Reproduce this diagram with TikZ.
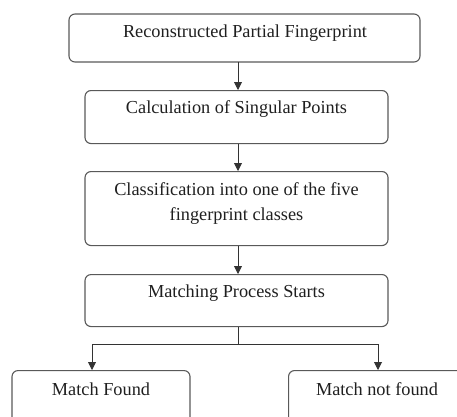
\documentclass[tikz,border=0pt]{standalone}
\usepackage{fontspec}
\setmainfont{Liberation Serif}
\usetikzlibrary{arrows.meta}
\begin{document}
\begin{tikzpicture}[x=1pt,y=1pt,
  box/.style={draw=black!65,line width=1.1pt,rounded corners=6pt},
  lbl/.style={font=\fontsize{18.3}{25}\selectfont,text=black!88,align=center,inner sep=0pt},
  arr/.style={line width=0.9pt,draw=black!80,-{Triangle[length=8pt,width=8pt]}},
  ln/.style={line width=0.9pt,draw=black!80}]
\clip (0,0) rectangle (457,-416);
\useasboundingbox (0,0) rectangle (457,-416);
\draw[box] (69,-14) rectangle (420,-62);
\coordinate (b1s) at (238,-62);
\node[lbl] (t1) at (245,-33) {Reconstructed Partial Fingerprint};
\node[box,minimum width=303pt,minimum height=53pt,anchor=north] (b2) at (236.5,-90) {};
\node[lbl] (t2) at (236.5,-109) {Calculation of Singular Points};
\node[box,minimum width=303pt,minimum height=74pt,anchor=north] (b3) at (236.5,-171) {};
\node[lbl] (t3) at (236.5,-203.5) {Classification into one of the five\\fingerprint classes};
\node[box,minimum width=303pt,minimum height=52pt,anchor=north] (b4) at (236.5,-274) {};
\node[lbl] (t4) at (236.5,-293) {Matching Process Starts};
\node[box,minimum width=178pt,minimum height=70pt,anchor=north] (b5) at (101,-370) {};
\node[lbl] (t5) at (101,-389) {Match Found};
\node[box,minimum width=182pt,minimum height=70pt,anchor=north west] (b6) at (288,-370) {};
\node[lbl] (t6) at (377,-389) {Match not found};
\coordinate (br) at (238,-344);
\coordinate (bl) at (92,-344);
\coordinate (brr) at (378,-344);
\draw[arr] (b1s) -- (b1s |- b2.north);
\draw[arr] (b2.south -| b1s) -- (b3.north -| b1s);
\draw[arr] (b3.south -| b1s) -- (b4.north -| b1s);
\draw[ln] (b4.south -| b1s) -- (br);
\draw[ln] (bl) -- (brr);
\draw[arr] (bl) -- (bl |- b5.north);
\draw[arr] (brr) -- (brr |- b6.north);
\end{tikzpicture}
\end{document}
